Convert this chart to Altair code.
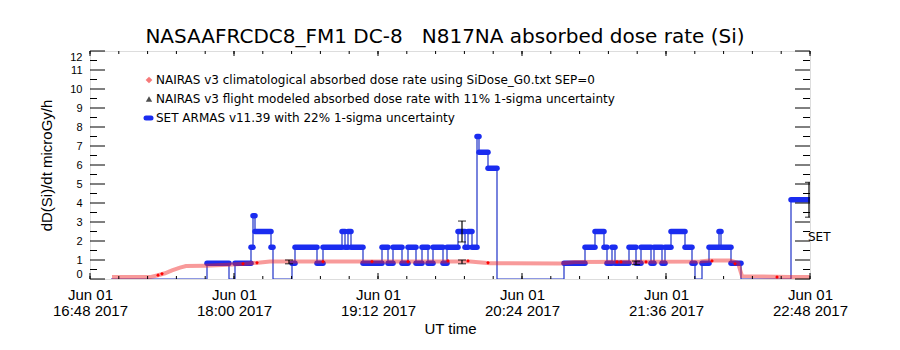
import altair as alt
import pandas as pd

DAY = "2017-06-01T"
FONT = "DejaVu Sans"

# ---------------- data ----------------
# SET ARMAS v11.39: piecewise-constant dose rate; segment i runs set_times[i] -> set_times[i+1]
set_times = ["16:58:30", "17:46:30", "17:57:30", "18:00:30", "18:08:30", "18:09:30", "18:10:30",
             "18:18:30", "18:19:30", "18:29:00", "18:30:30", "18:41:30", "18:44:30", "18:54:00",
             "18:55:30", "18:57:00", "18:58:30", "19:04:30", "19:14:00", "19:17:00", "19:19:30",
             "19:24:00", "19:27:00", "19:31:00", "19:34:00", "19:37:00", "19:39:30", "19:44:30",
             "19:46:30", "19:52:00", "19:55:30", "19:57:00", "19:59:00", "20:01:30", "20:02:30",
             "20:07:00", "20:11:30", "20:45:00", "20:55:30", "21:00:30", "21:05:00", "21:06:30",
             "21:09:00", "21:10:30", "21:17:30", "21:21:00", "21:23:30", "21:28:30", "21:30:00",
             "21:34:00", "21:35:30", "21:38:30", "21:45:30", "21:49:00", "21:50:30", "21:54:00",
             "21:57:30", "22:02:30", "22:03:30", "22:08:30", "22:13:30", "22:38:30", "22:48:00"]
set_values = [0, 0.83, 0, 0.83, 1.67, 3.33, 2.5, 1.67, 0, 0.83,
              1.67, 0.83, 1.67, 2.5, 1.67, 2.5, 1.67, 0.83, 1.67, 0.83,
              1.67, 0.83, 1.67, 0.83, 1.67, 0.83, 1.67, 0.83, 1.67, 2.5,
              1.67, 2.5, 1.67, 7.5, 6.67, 5.83, 0, 0.83, 1.67, 2.5,
              1.67, 0.83, 1.67, 0.83, 1.67, 0.83, 1.67, 0.83, 1.67, 0.83,
              1.67, 2.5, 1.67, 0.83, 0, 0.83, 1.67, 2.5, 1.67, 0.83,
              0, 4.17]

# NAIRAS v3 climatological absorbed dose rate
clim_times = ["16:59:00", "17:18:00", "17:22:00", "17:25:30", "17:29:00", "17:33:00", "17:36:00",
              "17:45:30", "17:57:00", "18:05:30", "18:12:00", "18:18:00", "19:13:00", "19:58:00",
              "20:08:00", "20:43:00", "20:50:30", "21:53:00", "21:58:00", "22:08:00", "22:12:00",
              "22:14:00", "22:38:00", "22:48:00"]
clim_values = [0.1, 0.1, 0.2, 0.3, 0.45, 0.6, 0.68, 0.7, 0.75, 0.8, 0.86, 0.92, 0.92, 0.92,
               0.83, 0.82, 0.9, 0.92, 0.97, 0.97, 0.85, 0.15, 0.1, 0.1]

# red diamond markers on the climatological curve
mark_times = ["17:22:00", "17:24:00", "18:04:30", "18:11:30", "18:44:30", "19:09:00", "19:27:00",
              "19:47:00", "19:57:00", "20:07:00", "21:11:30", "21:13:30", "21:26:00", "21:59:00",
              "22:10:30", "22:31:30"]
mark_values = [0.2, 0.27, 0.8, 0.85, 0.92, 0.92, 0.92, 0.95, 0.95, 0.85, 0.9, 0.9, 0.9, 0.95,
               0.8, 0.1]

# error bars
set_err_times = ["19:54:00", "22:47:30"]
set_err_values = [2.5, 4.17]
set_err_pct = 22
mod_err_times = ["18:27:30", "19:54:00", "21:21:00"]
mod_err_values = [0.9, 0.9, 0.85]
mod_err_pct = 11

x_tick_times = ["16:48", "18:00", "19:12", "20:24", "21:36", "22:48"]
y_tick_values = list(range(0, 13))

title_text = "NASAAFRCDC8_FM1 DC-8\u00a0\u00a0\u00a0N817NA absorbed dose rate (Si)"
legend_labels = [
    "NAIRAS v3 climatological absorbed dose rate using SiDose_G0.txt SEP=0",
    "NAIRAS v3 flight modeled absorbed dose rate with 11% 1-sigma uncertainty",
    "SET ARMAS v11.39 with 22% 1-sigma uncertainty",
]


# ---------------- helpers ----------------
def iso(t):
    if len(t) == 5:
        t = t + ":00"
    return DAY + t + "Z"


def dt(t):
    h, m = t.split(":")
    return alt.DateTime(year=2017, month=6, date=1, hours=int(h), minutes=int(m), utc=True)


W, H = 720, 228

xscale = alt.Scale(type="utc", domain=[dt(x_tick_times[0]), dt(x_tick_times[-1])], nice=False)
yscale = alt.Scale(domain=[0, 12], nice=False, zero=False)

xaxis = alt.Axis(
    values=[dt(t) for t in x_tick_times],
    labelExpr="[utcFormat(datum.value, '%b %d'), utcFormat(datum.value, '%H:%M %Y')]",
    ticks=False, domain=False, grid=False, labelAngle=0, labelOverlap=False, labelFlush=False,
    labelBound=False,
    labelFontSize=15, labelLineHeight=16, labelPadding=8,
    title="UT time", titleFontSize=15, titleFontWeight="normal", titlePadding=3,
)
yaxis = alt.Axis(
    values=y_tick_values, ticks=False, domain=False, grid=False, labelFlush=True,
    labelOverlap=False, labelFontSize=11, labelPadding=8,
    title="dD(Si)/dt microGy/h", titleFontSize=15, titleFontWeight="normal", titlePadding=15,
)


def X(field="t"):
    return alt.X(f"{field}:T", scale=xscale, axis=xaxis)


def Y(field="v"):
    return alt.Y(f"{field}:Q", scale=yscale, axis=yaxis)


# SET tables
seg = pd.DataFrame({
    "t": [iso(a) for a in set_times[:-1]],
    "t2": [iso(b) for b in set_times[1:]],
    "v": set_values,
})
line_rows = []
for i, (a, b, v) in enumerate(zip(set_times[:-1], set_times[1:], set_values)):
    line_rows.append({"t": iso(a), "v": v, "o": 2 * i})
    line_rows.append({"t": iso(b), "v": v, "o": 2 * i + 1})
set_line = pd.DataFrame(line_rows)

clim = pd.DataFrame({"t": [iso(t) for t in clim_times], "v": clim_values})
marks = pd.DataFrame({"t": [iso(t) for t in mark_times], "v": mark_values})

err = pd.DataFrame({
    "t": [iso(t) for t in set_err_times] + [iso(t) for t in mod_err_times],
    "lo": [v * (1 - set_err_pct / 100) for v in set_err_values]
          + [v * (1 - mod_err_pct / 100) for v in mod_err_values],
    "hi": [v * (1 + set_err_pct / 100) for v in set_err_values]
          + [v * (1 + mod_err_pct / 100) for v in mod_err_values],
})

major_x = pd.DataFrame({"t": [iso(t) for t in x_tick_times]})
minor_x = pd.DataFrame({"t": [d.strftime("%Y-%m-%dT%H:%M:%SZ") for d in
                              pd.date_range(DAY + "16:48:00", DAY + "22:48:00", freq="864s")]})
major_y = pd.DataFrame({"v": y_tick_values})
minor_y = pd.DataFrame({"v": [v + 0.5 for v in y_tick_values[:-1]]})

BLUE = "#1a2cf0"
BLUE_LINE = "#1f32c8"
RED = "#f02020"

layers = []

# SET thin connecting line
layers.append(alt.Chart(set_line).mark_line(color=BLUE_LINE, strokeWidth=1.2, clip=True)
              .encode(x=X(), y=Y(), order="o:Q"))
# SET thick bars (dense points)
layers.append(alt.Chart(seg[seg["v"] > 0]).mark_rule(color=BLUE, strokeWidth=5.5, strokeCap="round", clip=True)
              .encode(x=X(), x2="t2:T", y=Y()))
# climatological (checkered red -> translucent red)
layers.append(alt.Chart(clim).mark_line(color=RED, opacity=0.45, strokeWidth=4, clip=True)
              .encode(x=X(), y=Y()))
layers.append(alt.Chart(marks).mark_point(shape="diamond", filled=True, color="#ff0000", size=14, opacity=1)
              .encode(x=X(), y=Y()))
# error bars
layers.append(alt.Chart(err).mark_rule(color="black", strokeWidth=1.2, clip=True)
              .encode(x=X(), y=Y("lo"), y2="hi:Q"))
layers.append(alt.Chart(err).mark_tick(orient="horizontal", color="black", size=8, thickness=1.2, clip=True)
              .encode(x=X(), y=Y("lo")))
layers.append(alt.Chart(err).mark_tick(orient="horizontal", color="black", size=8, thickness=1.2, clip=True)
              .encode(x=X(), y=Y("hi")))

# inward box ticks
for df, y0, y1 in [(major_x, 0, 5), (minor_x, 0, 3), (major_x, H, H - 6), (minor_x, H, H - 3)]:
    layers.append(alt.Chart(df).mark_rule(color="black", strokeWidth=1)
                  .encode(x=X(), y=alt.value(y0), y2=alt.value(y1)))
for df, x0, x1 in [(major_y, 0, 15), (minor_y, 0, 7), (major_y, W, W - 15), (minor_y, W, W - 7)]:
    layers.append(alt.Chart(df).mark_rule(color="black", strokeWidth=1)
                  .encode(y=Y(), x=alt.value(x0), x2=alt.value(x1)))

# title
layers.append(alt.Chart(pd.DataFrame({"s": [title_text]}))
              .mark_text(font=FONT, fontSize=20, color="black", align="center", baseline="middle")
              .encode(text="s:N", x=alt.value(355), y=alt.value(-14)))

# in-plot legend
leg_y = [29, 48, 67]
for lab, yy in zip(legend_labels, leg_y):
    layers.append(alt.Chart(pd.DataFrame({"s": [lab]}))
                  .mark_text(font=FONT, fontSize=12, color="black", align="left", baseline="middle")
                  .encode(text="s:N", x=alt.value(66), y=alt.value(yy)))
layers.append(alt.Chart(pd.DataFrame({"s": [legend_labels[0]]}))
              .mark_point(shape="diamond", filled=True, color=RED, opacity=0.6, size=45)
              .encode(x=alt.value(59), y=alt.value(leg_y[0])))
layers.append(alt.Chart(pd.DataFrame({"s": [legend_labels[1]]}))
              .mark_point(shape="triangle-up", filled=True, color="#202020", opacity=0.8, size=40)
              .encode(x=alt.value(59), y=alt.value(leg_y[1])))
layers.append(alt.Chart(pd.DataFrame({"s": [legend_labels[2]]}))
              .mark_rule(color=BLUE, strokeWidth=5, strokeCap="round")
              .encode(x=alt.value(56), x2=alt.value(61), y=alt.value(leg_y[2])))

# series tag at right edge
layers.append(alt.Chart(pd.DataFrame({"s": ["SET"]}))
              .mark_text(font=FONT, fontSize=12, color="black", align="left", baseline="middle")
              .encode(text="s:N", x=alt.value(718), y=alt.value(186)))

chart = (
    alt.layer(*layers)
    .properties(width=W, height=H, autosize="none",
                padding={"left": 90, "top": 51, "right": 90, "bottom": 71})
    .configure_view(stroke="black", strokeWidth=1)
    .configure_axis(labelFont=FONT, titleFont=FONT, labelColor="black", titleColor="black")
    .configure(background="white")
)

chart.save("out.html", embed_options={"renderer": "svg", "actions": False})
